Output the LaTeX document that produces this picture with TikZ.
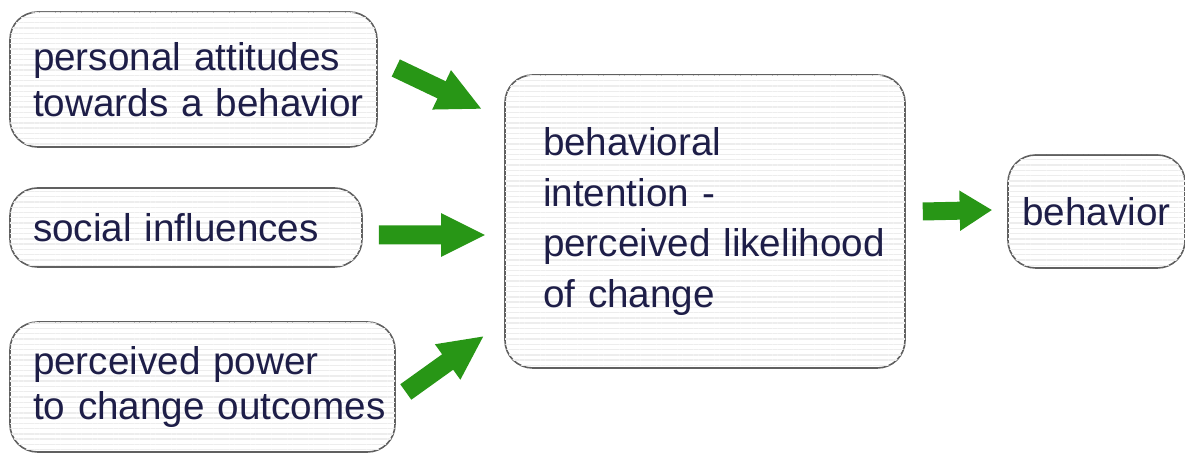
\documentclass[tikz,border=0pt]{standalone}
\usepackage{fontspec}
\setmainfont{Liberation Sans}
\usetikzlibrary{arrows.meta, calc, patterns.meta}
\definecolor{inktext}{RGB}{30,30,72}
\definecolor{arrowgreen}{RGB}{40,150,22}
\pgfdeclareverticalshading{boxshade}{100bp}{color(0bp)=(gray!75); color(16bp)=(white); color(90bp)=(white); color(100bp)=(gray!25)}
\begin{document}
\begin{tikzpicture}[
    box/.style={draw=gray!75!black, line width=0.9pt, rounded corners=0.55cm, shade, shading=boxshade,
        postaction={pattern={Lines[distance=3pt, line width=0.8pt]}, pattern color=gray!14},
        text=inktext, align=left, font=\fontsize{22}{26}\selectfont, inner xsep=0.46cm, inner ysep=0pt},
    greenarrow/.style={arrowgreen, line width=0.38cm, -{Triangle[length=0.9cm, width=0.8cm]}}
]
\useasboundingbox (0,0) rectangle (23.7,9.1);
% the three determinants
\node[box, text width=6.42cm, minimum height=2.7cm] (attitude) at (3.87,7.51) {\mbox{personal attitudes}\\\mbox{towards a behavior}};
\node[box, text width=6.12cm, minimum height=1.58cm] (social) at (3.72,4.55) {\mbox{social influences}};
\node[box, text width=6.78cm, minimum height=2.6cm] (power) at (4.05,1.36) {\mbox{perceived power}\\\mbox{to change outcomes}};
% intention and behavior
\node[box, text width=6.48cm, inner xsep=0.76cm, minimum height=5.86cm, font=\fontsize{22}{29}\selectfont] (intention) at (14.1,4.67) {\mbox{behavioral}\\\mbox{intention -}\\\mbox{perceived likelihood}\\\mbox{of change}};
\node[box, align=center, inner xsep=0.2cm, minimum width=3.54cm, minimum height=2.26cm] (behavior) at (21.93,4.87) {behavior};
% arrows
\draw[greenarrow] ($(attitude.east)+(0.36,0.23)$) -- ($(intention.north west)+(-0.44,-0.7)$);
\draw[greenarrow] ($(social.east)+(0.32,-0.15)$) -- ($(intention.west)+(-0.36,-0.27)$);
\draw[greenarrow] ($(power.east)+(0.2,-0.1)$) -- ($(intention.south west)+(-0.4,0.66)$);
\draw[greenarrow, line width=0.36cm, -{Triangle[length=0.65cm, width=0.76cm]}] ($(intention.east)+(0.34,0.2)$) -- ($(behavior.west)+(-0.3,0.03)$);
\end{tikzpicture}
\end{document}
